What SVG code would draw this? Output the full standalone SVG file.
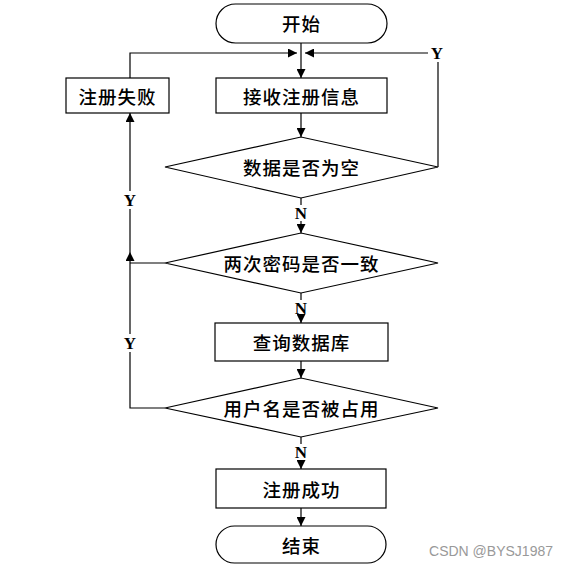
<svg xmlns="http://www.w3.org/2000/svg" width="569" height="574" viewBox="0 0 569 574">
<style>
.s{fill:#fff;stroke:#000;stroke-width:1.2}
.t{font-family:"Noto Sans CJK SC","Noto Sans",sans-serif;font-size:18.5px;font-weight:500;letter-spacing:1px;text-anchor:middle;dominant-baseline:central;fill:#000}
.l{font-family:"Liberation Serif",serif;font-size:17px;font-weight:bold;text-anchor:middle;dominant-baseline:central;fill:#000}
.c{fill:none;stroke:#000;stroke-width:1.2}
</style>
<defs>
<marker id="a" viewBox="0 0 10 10" refX="10" refY="5" markerWidth="9" markerHeight="9" markerUnits="userSpaceOnUse" orient="auto">
<path d="M0,0L10,5L0,10z" fill="#000"/>
</marker>
</defs>
<rect width="569" height="574" fill="#fff"/>
<g id="connectors">
<path class="c" d="M301,43V78" marker-end="url(#a)"/>
<path class="c" d="M130,78V53H297" marker-end="url(#a)"/>
<path class="c" d="M438,167V62"/>
<path class="c" d="M428,53H305" marker-end="url(#a)"/>
<path class="c" d="M301,113V137" marker-end="url(#a)"/>
<path class="c" d="M301,198V205"/>
<path class="c" d="M301,221V233" marker-end="url(#a)"/>
<path class="c" d="M301,293V300"/>
<path class="c" d="M301,316V323" marker-end="url(#a)"/>
<path class="c" d="M301,361V378" marker-end="url(#a)"/>
<path class="c" d="M301,437V444"/>
<path class="c" d="M301,460V469" marker-end="url(#a)"/>
<path class="c" d="M301,508V526" marker-end="url(#a)"/>
<path class="c" d="M165,408H130V352"/>
<path class="c" d="M130,334V252" marker-end="url(#a)"/>
<path class="c" d="M165,263H130"/>
<path class="c" d="M130,252V209"/>
<path class="c" d="M130,191V113" marker-end="url(#a)"/>
<text class="l" x="437" y="53">Y</text>
<text class="l" x="130" y="200">Y</text>
<text class="l" x="130" y="343">Y</text>
<text class="l" x="301" y="213">N</text>
<text class="l" x="301" y="308">N</text>
<text class="l" x="301" y="452">N</text>
</g>
<g id="start"><rect class="s" x="216" y="4" width="171" height="39" rx="19.5"/><text class="t" x="301.5" y="23">开始</text></g>
<g id="fail"><rect class="s" x="66" y="78" width="103" height="35"/><text class="t" x="117.5" y="95.5">注册失败</text></g>
<g id="receive"><rect class="s" x="216" y="78" width="171" height="35"/><text class="t" x="301.5" y="95.5">接收注册信息</text></g>
<g id="empty"><path class="s" d="M165,167L301,137L438,167L301,198z"/><text class="t" x="301.5" y="167">数据是否为空</text></g>
<g id="pwd"><path class="s" d="M165,263L301,233L438,263L301,293z"/><text class="t" x="301.5" y="263">两次密码是否一致</text></g>
<g id="query"><rect class="s" x="215" y="323" width="173" height="38"/><text class="t" x="301.5" y="342">查询数据库</text></g>
<g id="taken"><path class="s" d="M165,408L301,378L438,408L301,437z"/><text class="t" x="301.5" y="408">用户名是否被占用</text></g>
<g id="success"><rect class="s" x="216" y="469" width="170" height="39"/><text class="t" x="301.5" y="488.5">注册成功</text></g>
<g id="end"><rect class="s" x="216" y="526" width="170" height="37" rx="18.5"/><text class="t" x="301.5" y="544.5">结束</text></g>
<text x="553" y="556" font-family="Liberation Sans,sans-serif" font-size="14" fill="#999" text-anchor="end">CSDN @BYSJ1987</text>
</svg>
